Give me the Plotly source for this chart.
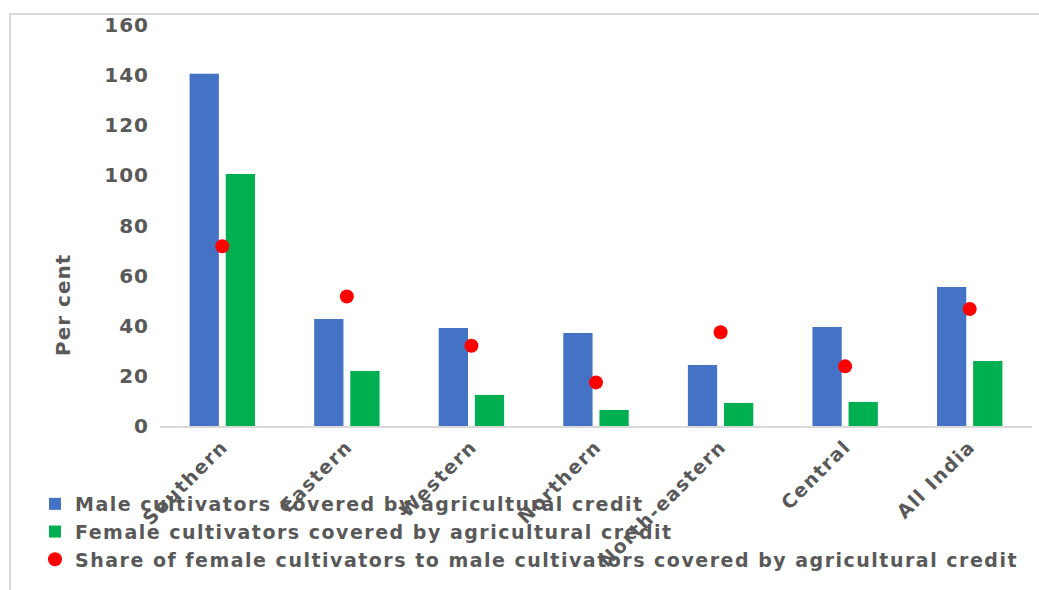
import plotly.graph_objects as go

regions = ["Southern", "Eastern", "Western", "Northern", "North-eastern", "Central", "All India"]
male_credit = [140.5, 42.7, 39.1, 37.1, 24.3, 39.5, 55.5]
female_credit = [100.5, 21.9, 12.4, 6.4, 9.2, 9.6, 25.9]
female_share = [71.7, 51.7, 32.0, 17.4, 37.4, 23.8, 46.7]
y_ticks = [0, 20, 40, 60, 80, 100, 120, 140, 160]

W, H = 1039, 590
L, R, T, B = 160, 7, 25, 164
FONT = "DejaVu Sans"
GRAY = "#595959"

fig = go.Figure()
fig.add_trace(go.Bar(x=regions, y=male_credit, name="Male cultivators covered by agricultural credit",
                     marker=dict(color="#4472C4", line=dict(width=0))))
fig.add_trace(go.Bar(x=regions, y=female_credit, name="Female cultivators covered by agricultural credit",
                     marker=dict(color="#00B050", line=dict(width=0))))
fig.add_trace(go.Scatter(x=regions, y=female_share, mode="markers",
                         name="Share of female cultivators to male cultivators covered by agricultural credit",
                         marker=dict(color="#FF0000", size=14, line=dict(width=0))))

pw = W - L - R
ph = H - T - B

def px_x(x):
    return (x - L) / pw

def px_y(y):
    return (H - B - y) / ph

fig.update_layout(
    width=W, height=H,
    margin=dict(l=L, r=R, t=T, b=B, pad=0),
    paper_bgcolor="white", plot_bgcolor="white",
    barmode="group", bargap=0.42, bargroupgap=0.19,
    font=dict(family=FONT, color=GRAY, size=20),
    showlegend=True,
    legend=dict(orientation="v", x=px_x(35), xanchor="left", y=px_y(485), yanchor="top",
                font=dict(family=FONT, size=19, color=GRAY, weight="bold"),
                bgcolor="rgba(0,0,0,0)", tracegroupgap=0, itemwidth=30),
    xaxis=dict(type="category", tickangle=-45, showgrid=False, zeroline=False,
               showline=True, linecolor="#D9D9D9", linewidth=2, ticks="",
               tickfont=dict(family=FONT, size=19, color=GRAY, weight="bold")),
    yaxis=dict(range=[0, 160], tickvals=y_ticks, showgrid=False, zeroline=False,
               showline=False, ticks="", ticklabelstandoff=10,
               tickfont=dict(family=FONT, size=20, color=GRAY, weight="bold")),
    shapes=[dict(type="rect", xref="paper", yref="paper",
                 x0=px_x(10), x1=px_x(1045), y0=px_y(600), y1=px_y(14),
                 line=dict(color="#D9D9D9", width=2), fillcolor="rgba(0,0,0,0)", layer="below")],
    annotations=[dict(text="Per cent", textangle=-90, xref="paper", yref="paper",
                      x=px_x(63), y=px_y(305), xanchor="center", yanchor="middle", showarrow=False,
                      font=dict(family=FONT, size=20, color=GRAY, weight="bold"))],
)

post = """
var s = document.createElement('style');
s.innerHTML = '.legendtext, .xtick text {letter-spacing:1.5px;} .ytick text {letter-spacing:1px;} ' +
              '.annotation-text {letter-spacing:1px;} .legend .scrollbox, .legend {clip-path:none !important;}';
document.head.appendChild(s);
"""

fig.write_html("out.html", post_script=post)
